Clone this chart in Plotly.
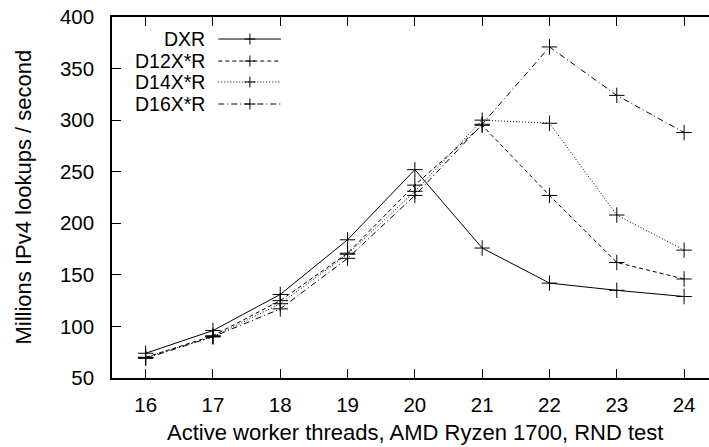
import plotly.graph_objects as go

# threads on AMD Ryzen 1700, RND test, millions of IPv4 lookups per second
threads = [16, 17, 18, 19, 20, 21, 22, 23, 24]
dxr = [74, 96, 131, 184, 252, 176, 142, 135, 129]
d12xr = [70, 91, 125, 171, 237, 295, 227, 162, 146]
d14xr = [70, 90, 122, 170, 231, 300, 297, 208, 174]
d16xr = [69, 90, 117, 166, 227, 296, 371, 324, 288]

names = ["DXR", "D12X*R", "D14X*R", "D16X*R"]
series = [dxr, d12xr, d14xr, d16xr]
dashes = ["solid", "4px,3px", "1px,2px", "6px,3px,1px,3px"]

FONT = "Liberation Sans, Arial, Helvetica, sans-serif"

fig = go.Figure()
for name, ys, dash in zip(names, series, dashes):
    fig.add_trace(go.Scatter(
        x=threads, y=ys, name=name, mode="lines+markers",
        line=dict(color="black", width=1, dash=dash),
        marker=dict(symbol="cross-thin", size=11, color="black",
                    line=dict(width=1, color="black")),
        showlegend=False))

# hand-made legend: right-aligned text, sample line with a cross
leg_y = [0.939, 0.878, 0.82, 0.759]
for name, dash, yy in zip(names, dashes, leg_y):
    fig.add_annotation(text=name, x=0.157, y=yy, xref="x domain", yref="y domain",
                       xanchor="right", yanchor="middle", showarrow=False,
                       borderpad=0,
                       font=dict(size=19.5, color="black", family=FONT))
    fig.add_shape(type="line", xref="x domain", yref="y domain",
                  x0=0.178, x1=0.283, y0=yy, y1=yy,
                  line=dict(color="black", width=1, dash=dash))
    fig.add_shape(type="path", xref="x domain", yref="y domain",
                  xsizemode="pixel", ysizemode="pixel", xanchor=0.231, yanchor=yy,
                  path="M -5.5,0 L 5.5,0 M 0,-5.5 L 0,5.5",
                  line=dict(color="black", width=1))

# axis titles
fig.add_annotation(text="Active worker threads, AMD Ryzen 1700, RND test",
                   x=0.5075, y=-0.15, xref="paper", yref="paper",
                   xanchor="center", yanchor="middle", showarrow=False,
                   font=dict(size=22, color="black", family=FONT))
fig.add_annotation(text="Millions IPv4 lookups / second", textangle=-90,
                   x=-0.149, y=0.5, xref="paper", yref="paper",
                   xanchor="center", yanchor="middle", showarrow=False,
                   font=dict(size=22, color="black", family=FONT))

fig.update_xaxes(range=[15.5, 24.37], tickvals=threads, ticks="inside", ticklen=9,
                 tickcolor="black", showline=True, linecolor="black", linewidth=1.5,
                 mirror="ticks", showgrid=False, zeroline=False, automargin=False,
                 ticklabelstandoff=8,
                 tickfont=dict(size=20.5, color="black", family=FONT))
fig.update_yaxes(range=[50, 400], dtick=50, ticks="inside", ticklen=9,
                 tickcolor="black", showline=True, linecolor="black", linewidth=1.5,
                 mirror=False, showgrid=False, zeroline=False, automargin=False,
                 ticklabelstandoff=12,
                 tickfont=dict(size=20.5, color="black", family=FONT))

fig.update_layout(width=709, height=447, plot_bgcolor="white", paper_bgcolor="white",
                  margin=dict(l=112, r=0, t=17, b=69), font=dict(family=FONT))
# drop the page's default body margin so the figure sits at the window corner
fig.write_html("out.html", config={"displayModeBar": False},
               post_script="document.body.style.margin='0';")
